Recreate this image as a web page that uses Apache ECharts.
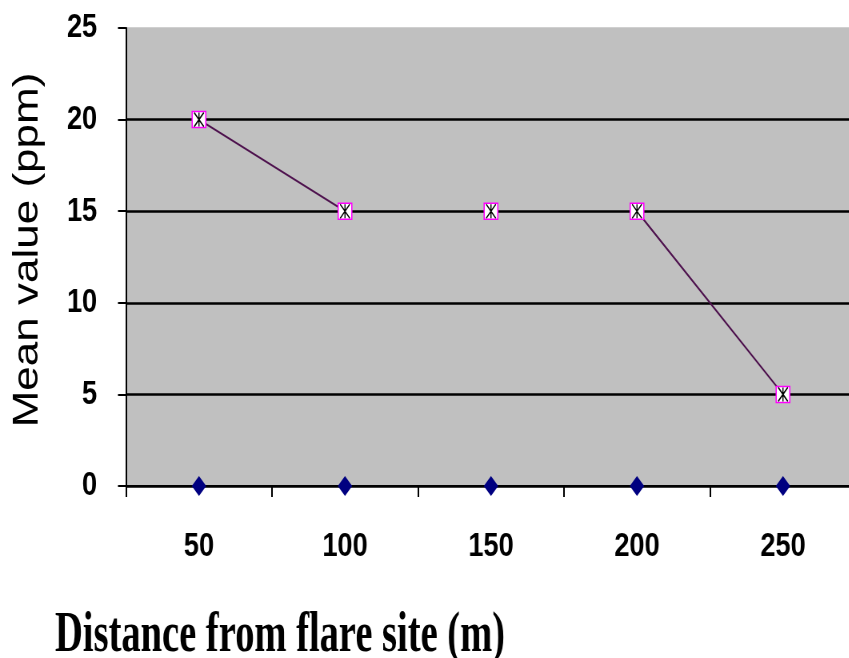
<!DOCTYPE html>
<html>
<head>
<meta charset="utf-8">
<script src="https://cdn.jsdelivr.net/npm/echarts@6/dist/echarts.min.js"></script>
<style>
html, body { margin:0; padding:0; background:#ffffff; overflow:hidden; width:849px; height:658px; }
#chart { width:1070px; height:658px; transform: scaleX(0.8); transform-origin: 0 0; }
</style>
</head>
<body>
<div id="chart"></div>
<script>
// Data
var categories = ['50', '100', '150', '200', '250'];
var meanValues = [20, 15, 15, 15, 5];
var lineValues = [20, 15, null, 15, 5];
var baseValues = [0, 0, 0, 0, 0];
var yTicks = { min: 0, max: 25, interval: 5 };
var xTitle = 'Distance from flare site (m)';
var yTitle = 'Mean value (ppm)';

var chart = echarts.init(document.getElementById('chart'), null, { renderer: 'canvas' });
var option = {
  animation: false,
  backgroundColor: '#ffffff',
  grid: {
    left: 157.5, right: 0, top: 28, bottom: 172,
    show: true, backgroundColor: '#c0c0c0', borderWidth: 0
  },
  xAxis: {
    type: 'category',
    data: categories,
    boundaryGap: true,
    axisLine: { show: true, lineStyle: { color: '#000', width: 2 } },
    axisTick: { show: true, length: 11, lineStyle: { color: '#000', width: 2 } },
    axisLabel: {
      color: '#000', fontFamily: 'Liberation Sans, Arial, sans-serif',
      fontWeight: 'bold', fontSize: 34, margin: 44
    },
    splitLine: { show: false }
  },
  yAxis: {
    type: 'value',
    min: yTicks.min, max: yTicks.max, interval: yTicks.interval,
    axisLine: { show: true, lineStyle: { color: '#000', width: 2 } },
    axisTick: { show: true, length: 10, lineStyle: { color: '#000', width: 2 } },
    axisLabel: {
      color: '#000', fontFamily: 'Liberation Sans, Arial, sans-serif',
      fontWeight: 'bold', fontSize: 34, margin: 36
    },
    splitLine: { show: true, lineStyle: { color: ['#000', '#000', '#000', '#000', '#000', '#c0c0c0'], width: 2.5 } }
  },
  series: [
    {
      type: 'line', data: lineValues, connectNulls: false,
      showSymbol: false, symbol: 'none',
      lineStyle: { color: '#4e124e', width: 2 },
      z: 3
    },
    {
      type: 'scatter', data: meanValues,
      symbol: 'rect', symbolSize: [17, 16],
      itemStyle: { color: '#ffffff', borderColor: '#ff00ff', borderWidth: 1.5, opacity: 1 },
      z: 4
    },
    {
      type: 'scatter', data: meanValues,
      symbol: 'path://M0,0L10,10M10,0L0,10M5,0L5,10', symbolSize: [12, 14],
      itemStyle: { color: 'transparent', borderColor: '#000', borderWidth: 1.5, opacity: 1 },
      z: 5
    },
    {
      type: 'scatter', data: baseValues,
      symbol: 'diamond', symbolSize: [18, 20],
      itemStyle: { color: '#000080', opacity: 1 },
      z: 5
    }
  ],
  graphic: [
    {
      type: 'text', x: 34.5, y: 250, rotation: Math.PI / 2,
      style: {
        text: yTitle, fill: '#000', align: 'center', verticalAlign: 'middle',
        font: 'normal 44px "Liberation Sans", Arial, sans-serif'
      }
    },
    {
      type: 'text', x: 68.75, y: 636.5, scaleX: 0.86,
      style: {
        text: xTitle, fill: '#000', align: 'left', verticalAlign: 'middle',
        font: 'bold 56px "Liberation Serif", "Times New Roman", serif'
      }
    }
  ]
};
chart.setOption(option);
</script>
</body>
</html>
